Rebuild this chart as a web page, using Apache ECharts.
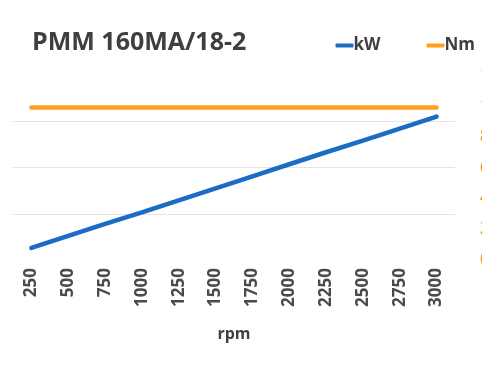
<!DOCTYPE html>
<html><head><meta charset="utf-8">
<script src="https://cdn.jsdelivr.net/npm/echarts@6/dist/echarts.min.js"></script>
<style>html,body{margin:0;padding:0;background:#fff}#c{width:482px;height:372px}</style>
</head><body><div id="c"></div>
<script>
const title = 'PMM 160MA/18-2';
const rpm = ['250','500','750','1000','1250','1500','1750','2000','2250','2500','2750','3000'];
const kW = [2.6, 5.2, 7.8, 10.3, 12.9, 15.5, 18.1, 20.7, 23.3, 25.8, 28.4, 31.0];
const Nm = [99, 99, 99, 99, 99, 99, 99, 99, 99, 99, 99, 99];
const chart = echarts.init(document.getElementById('c'));
chart.setOption({
  animation: false,
  title: { text: title, left: 27, top: 25, textStyle: { fontFamily: 'Open Sans', fontWeight: 700, fontSize: 25, color: '#3f3f3f' } },
  legend: {
    right: 2, top: 32, itemWidth: 18, itemHeight: 4, itemGap: 46, icon: 'roundRect',
    textStyle: { fontFamily: 'Open Sans', fontWeight: 700, fontSize: 17, color: '#3f3f3f', padding: [0, 0, 0, -5] },
    data: ['kW', 'Nm']
  },
  grid: { left: 13, right: 27, top: 75, bottom: 112, containLabel: false, outerBoundsMode: 'none' },
  xAxis: {
    type: 'category', data: rpm, boundaryGap: true,
    name: 'rpm', nameLocation: 'middle', nameGap: 66,
    nameTextStyle: { fontFamily: 'Open Sans', fontWeight: 700, fontSize: 16, color: '#3f3f3f' },
    axisLine: { show: false }, axisTick: { show: false },
    axisLabel: { rotate: 90, margin: 8, fontFamily: 'Open Sans', fontWeight: 700, fontSize: 17, color: '#4a4a4a' }
  },
  yAxis: [
    { type: 'value', min: 0, max: 40, interval: 10, axisLabel: { show: false }, axisLine: { show: false }, axisTick: { show: false },
      splitLine: { show: true, showMinLine: false, showMaxLine: false, lineStyle: { color: '#e4e4e4', width: 1 } } },
    { type: 'value', min: 0, max: 120, interval: 20, position: 'right', axisLine: { show: false }, axisTick: { show: false },
      splitLine: { show: false },
      axisLabel: { margin: 25, fontFamily: 'Open Sans', fontWeight: 700, fontSize: 18, color: '#FF9F1A' } }
  ],
  series: [
    { name: 'kW', type: 'line', data: kW, yAxisIndex: 0, showSymbol: false, lineStyle: { width: 4.5, color: '#1A6CC4', cap: 'round' }, itemStyle: { color: '#1A6CC4' } },
    { name: 'Nm', type: 'line', data: Nm, yAxisIndex: 1, showSymbol: false, lineStyle: { width: 4.5, color: '#FF9F1A', cap: 'round' }, itemStyle: { color: '#FF9F1A' } }
  ]
});
</script></body></html>
